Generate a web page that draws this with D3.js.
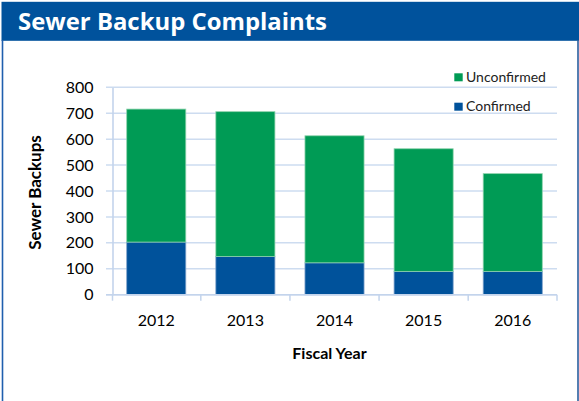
<!DOCTYPE html>
<html><head><meta charset="utf-8">
<script src="https://cdn.jsdelivr.net/npm/d3@7"></script>
<style>body{margin:0;background:#fff}svg{display:block}</style>
</head><body><svg id="c" width="579" height="401"></svg>
<script>
const years = ["2012","2013","2014","2015","2016"];
const confirmed = [203,147,123,90,90];
const unconfirmed = [513,559,490,473,377];
const yTicks = [0,100,200,300,400,500,600,700,800];
const seriesNames = ["Unconfirmed","Confirmed"];
const colors = {Unconfirmed:"#009b55", Confirmed:"#00529b"};

const svg = d3.select("#c");
const W=579,H=401;
const font="Lato, 'Open Sans', sans-serif";
// frame
svg.append("rect").attr("x",0).attr("y",0).attr("width",W).attr("height",H).attr("fill","#fff");
svg.append("rect").attr("x",1.5).attr("y",1.8).attr("width",W-1.5).attr("height",39).attr("fill","#00529c");
svg.append("line").attr("x1",2.5).attr("x2",2.5).attr("y1",40).attr("y2",H).attr("stroke","#1f5fae").attr("stroke-width",1.6);
svg.append("line").attr("x1",578).attr("x2",578).attr("y1",40).attr("y2",H).attr("stroke","#2a5e9e").attr("stroke-width",1.6);
svg.append("text").attr("x",18).attr("y",29.5).attr("fill","#fff").attr("font-family","'Open Sans', sans-serif")
  .attr("font-weight",700).attr("font-size",23).attr("textLength",309).attr("lengthAdjust","spacingAndGlyphs")
  .text("Sewer Backup Complaints");

const x = d3.scaleBand().domain(years).range([112,557]).paddingInner(0.337).paddingOuter(0.165);
const y = d3.scaleLinear().domain([0,800]).range([294.7,87.3]);

// gridlines
const g = svg.append("g");
g.selectAll("line.grid").data(yTicks).join("line")
  .attr("x1",106).attr("x2",557).attr("y1",d=>y(d)).attr("y2",d=>y(d))
  .attr("stroke","#cddcf0").attr("stroke-width",1.5);

// y axis
const ya = svg.append("g").attr("transform","translate(112.5,0)")
  .call(d3.axisLeft(y).tickValues(yTicks).tickSize(0).tickPadding(19));
ya.select(".domain").attr("stroke","#c3d4ec").attr("stroke-width",1.6);
ya.selectAll("text").attr("font-family",font).attr("font-size",16).attr("fill","#000");

// bars
const stack = d3.stack().keys(["Confirmed","Unconfirmed"]);
const rows = years.map((yr,i)=>({year:yr, Confirmed:confirmed[i], Unconfirmed:unconfirmed[i]}));
const layers = stack(rows);
svg.append("g").selectAll("g").data(layers).join("g")
  .attr("fill",d=>colors[d.key])
  .attr("stroke",d=>d.key==="Unconfirmed"?"#8fd3ad":"#7fa2cc").attr("stroke-width",0.8)
  .selectAll("rect").data(d=>d).join("rect")
  .attr("x",d=>x(d.data.year)).attr("width",x.bandwidth())
  .attr("y",d=>y(d[1])).attr("height",d=>y(d[0])-y(d[1]));

// x axis
const xa = svg.append("g").attr("transform","translate(0,294.7)")
  .call(d3.axisBottom(x).tickSize(0).tickPadding(20));
xa.select(".domain").attr("stroke","#c3d4ec").attr("stroke-width",1.6).attr("d","M106,0H557");
xa.selectAll("text").attr("font-family",font).attr("font-size",16).attr("fill","#000");
const bounds = years.map(d=>x(d)-x.step()*x.paddingInner()/2).concat([557]);
bounds[0]=112.5;
xa.selectAll("line.sep").data(bounds).join("line").attr("class","sep")
  .attr("x1",d=>d).attr("x2",d=>d).attr("y1",0).attr("y2",6)
  .attr("stroke","#c3d4ec").attr("stroke-width",1.5);

// axis titles
svg.append("text").attr("x",329.5).attr("y",359).attr("text-anchor","middle")
  .attr("font-family",font).attr("font-weight",700).attr("font-size",16).text("Fiscal Year");
svg.append("text").attr("transform","translate(40.5,192.5) rotate(-90)").attr("text-anchor","middle")
  .attr("font-family",font).attr("font-weight",700).attr("font-size",17).text("Sewer Backups");

// legend
const lg = svg.append("g");
seriesNames.forEach((s,i)=>{
  const yy = 73.3 + i*29.4;
  lg.append("rect").attr("x",454.3).attr("y",yy).attr("width",8.4).attr("height",8).attr("fill",colors[s]);
  lg.append("text").attr("x",466).attr("y",yy+8.2).attr("font-family",font).attr("font-size",14)
    .attr("fill","#222").text(s);
});
</script></body></html>
